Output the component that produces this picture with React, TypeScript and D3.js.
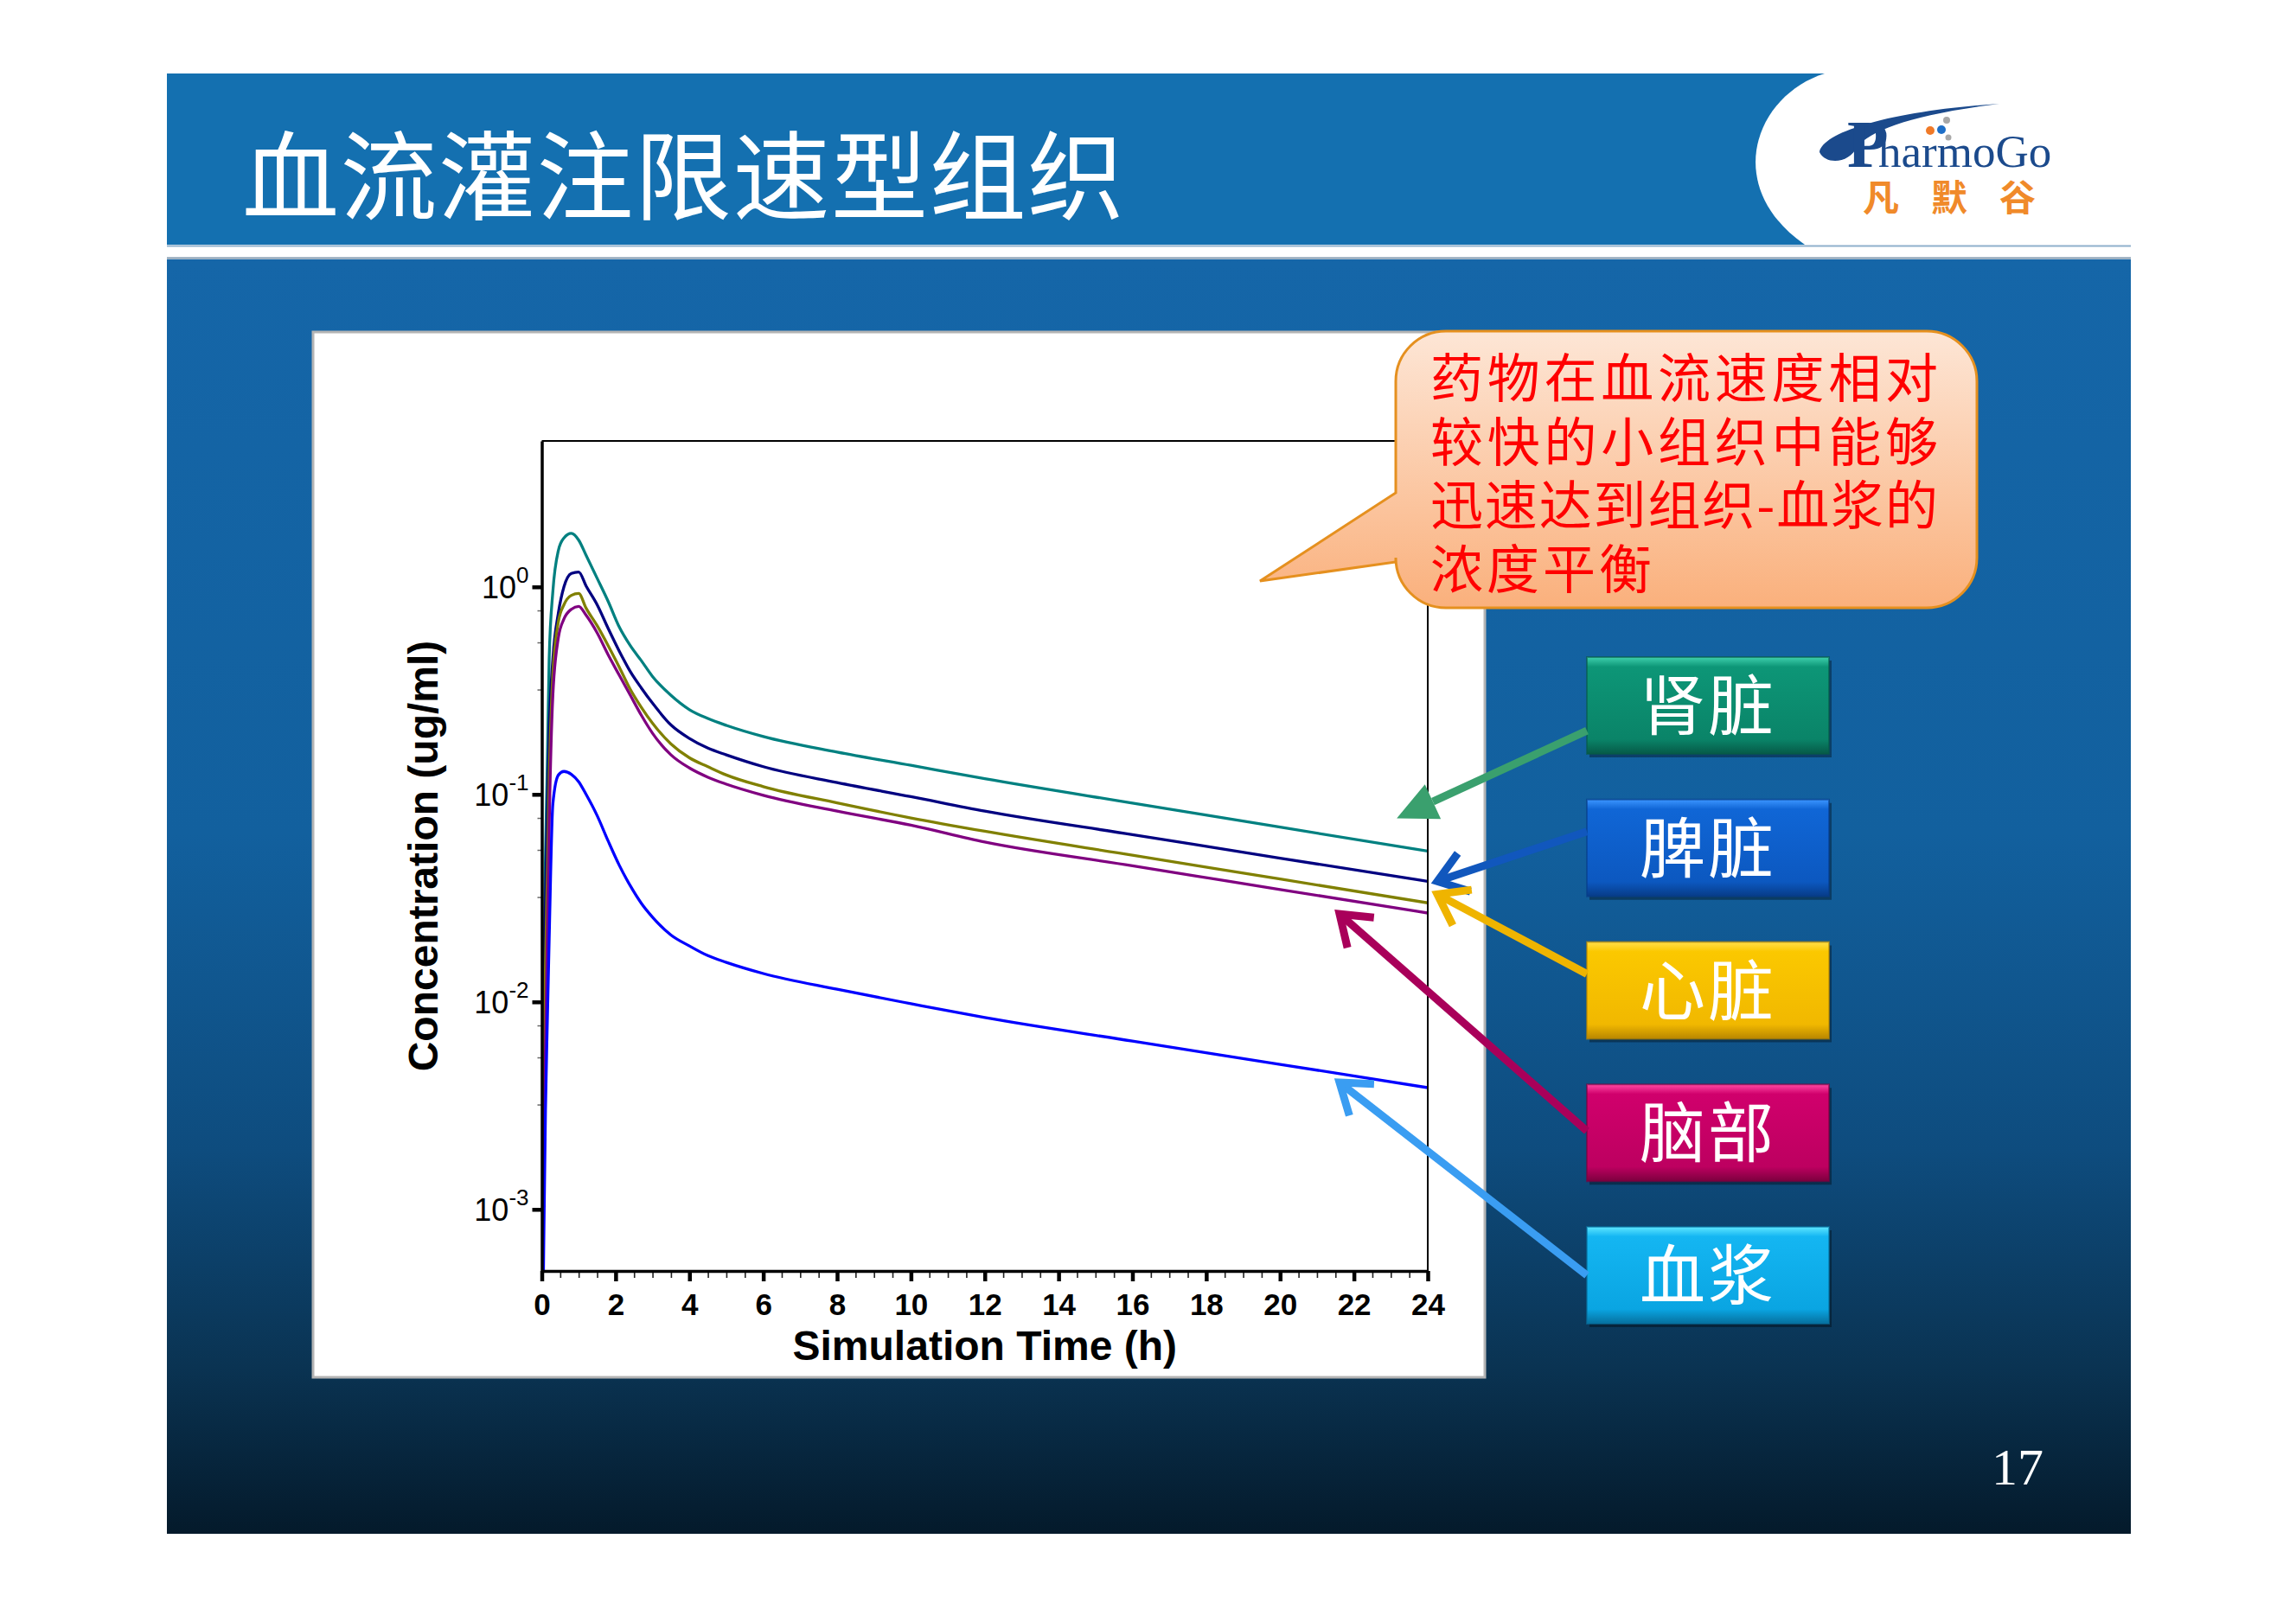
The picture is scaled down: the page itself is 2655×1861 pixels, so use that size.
import React, { useRef, useEffect } from "react";
import * as d3 from "d3";

// simulation time (h)
const times = [0, 0.05, 0.1, 0.15, 0.2, 0.3, 0.45, 0.6, 0.8, 1.0, 1.2, 1.5, 1.8, 2.1, 2.4, 2.7, 3.0, 3.5, 4, 4.5, 5, 6, 8, 10, 12, 16, 20, 24];

// concentration (ug/ml)
const kidney = [0.0001, 0.008, 0.05, 0.14, 0.45, 0.95, 1.5, 1.72, 1.81, 1.68, 1.42, 1.1, 0.85, 0.64, 0.52, 0.44, 0.37, 0.3, 0.256, 0.232, 0.215, 0.19, 0.16, 0.138, 0.119, 0.0908, 0.0695, 0.0533];
const spleen = [0.0001, 0.006, 0.03, 0.08, 0.2, 0.45, 0.75, 1.0, 1.16, 1.18, 1.01, 0.82, 0.63, 0.49, 0.39, 0.325, 0.275, 0.216, 0.186, 0.167, 0.155, 0.136, 0.114, 0.0975, 0.083, 0.064, 0.0493, 0.0381];
const heart = [0.0001, 0.003, 0.015, 0.04, 0.12, 0.38, 0.68, 0.82, 0.91, 0.93, 0.79, 0.65, 0.52, 0.41, 0.32, 0.262, 0.22, 0.175, 0.15, 0.136, 0.124, 0.109, 0.091, 0.077, 0.0664, 0.0509, 0.0391, 0.03];
const brain = [0.0001, 0.0015, 0.006, 0.02, 0.07, 0.3, 0.57, 0.7, 0.78, 0.805, 0.73, 0.6, 0.47, 0.375, 0.3, 0.24, 0.197, 0.155, 0.134, 0.121, 0.112, 0.099, 0.083, 0.071, 0.0589, 0.0453, 0.0348, 0.0268];
const plasma = [0.0001, 0.0006, 0.003, 0.008, 0.02, 0.09, 0.124, 0.129, 0.125, 0.115, 0.1, 0.079, 0.0595, 0.0455, 0.0362, 0.0298, 0.0256, 0.021, 0.0186, 0.0167, 0.0155, 0.0137, 0.0115, 0.0098, 0.0084, 0.00647, 0.005, 0.00386];

const seriesValues = [kidney, spleen, heart, brain, plasma];
const lineColors = ["#008080", "#000080", "#808000", "#800080", "#0000ff"];

// legend boxes on the right
const organs = ["肾脏", "脾脏", "心脏", "脑部", "血浆"];
const boxColors = [
  ["#3fd0ad", "#0d9677", "#0a8468", "#065a47"],
  ["#3b95ff", "#1066d6", "#0c58c0", "#073c88"],
  ["#ffe04a", "#fbc800", "#f1b800", "#b98700"],
  ["#ff4aa4", "#d0006c", "#bd0060", "#7c003e"],
  ["#5ee6ff", "#14b6f2", "#0aa5e2", "#06709e"],
];
const arrowColors = ["#3aa06e", "#1157bd", "#efb400", "#a9005a", "#3a9df2"];
// where each arrow points, in data units (time h, conc ug/ml)
const arrowTipT = [23.16, 24.26, 24.26, 21.61, 21.61];
const arrowTipC = [0.0767, 0.0381, 0.033, 0.0265, 0.00409];
const arrowStartFrac = [0.76, 0.33, 0.33, 0.48, 0.5];

const xMajor = d3.range(0, 25, 2);
const xMinor = d3.range(0, 24.01, 0.5).filter((v) => v % 2 !== 0);
const yMajor = [1e-3, 1e-2, 1e-1, 1];
const yExp = ["-3", "-2", "-1", "0"];
const yMinorMult = [3.2, 5.4, 7.7];

const calloutLines = ["药物在血流速度相对", "较快的小组织中能够", "迅速达到组织-血浆的", "浓度平衡"];

const CJK = "'Noto Sans CJK SC', sans-serif";
const SANS = "'Liberation Sans', Arial, sans-serif";
const SERIF = "'Liberation Serif', 'Times New Roman', serif";

const App = () => {
  const axRef = useRef<SVGGElement>(null);

  const x = d3.scaleLinear().domain([0, 24]).range([626.5, 1651]);
  const y = d3.scaleLog().domain([5.05e-4, 5.05]).range([1470, 510]);
  const boxY = d3.scalePoint<string>().domain(organs).range([760, 1419]);
  const boxX = 1835, boxW = 280, boxH = 112;

  const line = d3
    .line<number>()
    .x((_, i) => x(times[i]))
    .y((d) => y(d))
    .curve(d3.curveMonotoneX);

  useEffect(() => {
    const g = d3.select(axRef.current);
    g.selectAll("*").remove();

    // minor x ticks
    g.append("g")
      .attr("transform", "translate(0,1470)")
      .call(d3.axisBottom(x).tickValues(xMinor).tickSize(8).tickFormat(() => ""))
      .call((s) => s.select(".domain").remove())
      .call((s) => s.selectAll("line").attr("stroke", "#222").attr("stroke-width", 1.6));

    // major x
    g.append("g")
      .attr("transform", "translate(0,1470)")
      .call(d3.axisBottom(x).tickValues(xMajor).tickSize(12).tickSizeOuter(0).tickPadding(14).tickFormat(d3.format("d")))
      .call((s) => s.select(".domain").attr("stroke", "#000").attr("stroke-width", 3.5))
      .call((s) => s.selectAll(".tick line").attr("stroke", "#000").attr("stroke-width", 4.5))
      .call((s) =>
        s.selectAll(".tick text")
          .attr("fill", "#000")
          .attr("font-family", SANS)
          .attr("font-weight", "bold")
          .attr("font-size", 35)
      );

    // minor y ticks
    const yMinor: number[] = [];
    [1e-3, 1e-2, 1e-1].forEach((d) => yMinorMult.forEach((m) => yMinor.push(d * m)));
    g.append("g")
      .attr("transform", "translate(626.5,0)")
      .call(d3.axisLeft(y).tickValues(yMinor).tickSize(5).tickFormat(() => ""))
      .call((s) => s.select(".domain").remove())
      .call((s) => s.selectAll("line").attr("stroke", "#666").attr("stroke-width", 1.5));

    // major y
    const ya = g.append("g")
      .attr("transform", "translate(626.5,0)")
      .call(d3.axisLeft(y).tickValues(yMajor).tickSize(11).tickSizeOuter(0).tickFormat(() => ""))
      .call((s) => s.select(".domain").attr("stroke", "#000").attr("stroke-width", 3.5))
      .call((s) => s.selectAll(".tick line").attr("stroke", "#000").attr("stroke-width", 4.5));

    ya.selectAll(".tick text").remove();
    ya.selectAll<SVGGElement, number>(".tick").each(function (d) {
      const t = d3.select(this)
        .append("text")
        .attr("x", -15)
        .attr("y", 13)
        .attr("text-anchor", "end")
        .attr("fill", "#000")
        .attr("font-family", SANS)
        .attr("font-size", 36);
      t.append("tspan").text("10");
      t.append("tspan").attr("dy", -18).attr("font-size", 26).text(yExp[yMajor.indexOf(d)]);
    });

    // frame top and right
    g.append("path")
      .attr("d", `M${x(0)},${y(5.05)}H${x(24)}V${y(5.05e-4)}`)
      .attr("fill", "none")
      .attr("stroke", "#000")
      .attr("stroke-width", 2);
  }, []);

  const calloutPath = (() => {
    const x0 = 1614, x1 = 2286, y0 = 383, y1 = 703, r = 58;
    return `M${x0 + r},${y0} H${x1 - r} A${r},${r} 0 0 1 ${x1},${y0 + r} V${y1 - r} A${r},${r} 0 0 1 ${x1 - r},${y1} H${x0 + r} A${r},${r} 0 0 1 ${x0},${y1 - r} V650 L1457,672 L${x0},570 V${y0 + r} A${r},${r} 0 0 1 ${x0 + r},${y0} Z`;
  })();

  return (
    <svg width={2655} height={1861} style={{ position: "absolute", left: 0, top: 0, background: "#fff" }}>
      <defs>
        <linearGradient id="body" x1="0" y1="0" x2="0" y2="1">
          <stop offset="0" stopColor="#1566a8" />
          <stop offset="0.45" stopColor="#12609e" />
          <stop offset="0.7" stopColor="#0e4c7e" />
          <stop offset="0.87" stopColor="#0a3352" />
          <stop offset="1" stopColor="#041a2b" />
        </linearGradient>
        <linearGradient id="callout" x1="0" y1="0" x2="0" y2="1">
          <stop offset="0" stopColor="#fde6d6" />
          <stop offset="1" stopColor="#fab07c" />
        </linearGradient>
        {boxColors.map((c, i) => (
          <linearGradient key={i} id={`box${i}`} x1="0" y1="0" x2="0" y2="1">
            <stop offset="0" stopColor={c[0]} />
            <stop offset="0.1" stopColor={c[1]} />
            <stop offset="0.85" stopColor={c[2]} />
            <stop offset="1" stopColor={c[3]} />
          </linearGradient>
        ))}
        <clipPath id="plotClip">
          <rect x={x(0)} y={y(5.05)} width={x(24) - x(0)} height={y(5.05e-4) - y(5.05)} />
        </clipPath>
      </defs>

      {/* title bar */}
      <rect x={193} y={85} width={2271} height={198} fill="#1470b0" />
      <path d="M2110,85 C2030,110 1990,215 2087,283 L2470,283 L2470,85 Z" fill="#fff" />
      <text x={280} y={246} fill="#fff" fontFamily={CJK} fontSize={112} letterSpacing={1.5}>
        血流灌注限速型组织
      </text>

      {/* logo */}
      <path d="M2104,176 C2108,152 2190,128 2312,120 C2210,133 2165,150 2147,170 C2140,188 2112,192 2104,176 Z" fill="#1b4a8c" />
      <text x={2136} y={193} fill="#1b4a8c" fontFamily={SERIF} fontWeight="bold" fontSize={78}>P</text>
      <text x={2172} y={193} fill="#1b4a8c" fontFamily={SERIF} fontSize={53}>harmoGo</text>
      <circle cx={2232} cy={151} r={5} fill="#f07a28" />
      <circle cx={2245} cy={150} r={5} fill="#1e6fc8" />
      <circle cx={2251} cy={139} r={4} fill="#a8a8a8" />
      <circle cx={2253} cy={159} r={3.5} fill="#a8a8a8" />
      <text x={2154} y={244} fill="#f08a2a" fontFamily={CJK} fontWeight={700} fontSize={42} letterSpacing={37}>
        凡默谷
      </text>

      {/* separator */}
      <rect x={193} y={283} width={2271} height={17} fill="#fff" />
      <line x1={193} x2={2464} y1={284.5} y2={284.5} stroke="#8fb0cc" strokeWidth={2} />
      <line x1={193} x2={2464} y1={298.5} y2={298.5} stroke="#7f97ad" strokeWidth={2} />

      {/* body */}
      <rect x={193} y={300} width={2271} height={1474} fill="url(#body)" />

      {/* chart panel */}
      <rect x={362} y={384} width={1355} height={1209} fill="#fff" stroke="#b4b4b4" strokeWidth={3} />

      <g clipPath="url(#plotClip)">
        {seriesValues.map((vals, i) => (
          <path key={i} d={line(vals) || ""} fill="none" stroke={lineColors[i]} strokeWidth={3.3} strokeLinejoin="round" />
        ))}
      </g>
      <g ref={axRef} />

      <text
        transform={`translate(489,${(y(5.05) + y(5.05e-4)) / 2}) rotate(-90)`}
        textAnchor="middle"
        dy="0.35em"
        fontFamily={SANS}
        fontWeight="bold"
        fontSize={48}
        fill="#000"
      >
        Concentration (ug/ml)
      </text>
      <text x={(x(0) + x(24)) / 2} y={1573} textAnchor="middle" fontFamily={SANS} fontWeight="bold" fontSize={48} fill="#000">
        Simulation Time (h)
      </text>

      {/* callout */}
      <path d={calloutPath} fill="url(#callout)" stroke="#e5901f" strokeWidth={3} />
      {calloutLines.map((t, i) => (
        <text
          key={i}
          x={1654}
          y={460 + i * 73.5}
          fill="#ff0000"
          fontFamily={CJK}
          fontSize={61}
          letterSpacing={4}
          {...(i < 3 ? { textLength: 591, lengthAdjust: "spacing" } : {})}
        >
          {t}
        </text>
      ))}

      {/* legend boxes */}
      {organs.map((o, i) => {
        const by = boxY(o) as number;
        return (
          <g key={o}>
            <rect x={boxX + 3} y={by + 4} width={boxW} height={boxH} fill="rgba(0,0,0,0.35)" />
            <rect x={boxX} y={by} width={boxW} height={boxH} fill={`url(#box${i})`} />
            <rect x={boxX} y={by} width={boxW} height={boxH} fill="none" stroke={boxColors[i][3]} strokeOpacity={0.6} strokeWidth={2} />
            <text
              x={boxX + boxW / 2}
              y={by + boxH / 2 + 28}
              textAnchor="middle"
              fill="#fff"
              fontFamily={CJK}
              fontSize={76}
              letterSpacing={3}
            >
              {o}
            </text>
          </g>
        );
      })}

      {/* arrows */}
      {organs.map((o, i) => {
        const sx = boxX;
        const sy = (boxY(o) as number) + boxH * arrowStartFrac[i];
        const tx = x(arrowTipT[i]);
        const ty = y(arrowTipC[i]);
        const ang = Math.atan2(ty - sy, tx - sx);
        if (i === 0) {
          const len = 46, hw = 22;
          const bx = tx - len * Math.cos(ang), byy = ty - len * Math.sin(ang);
          const px = -Math.sin(ang), py = Math.cos(ang);
          return (
            <g key={o}>
              <line x1={sx} y1={sy} x2={bx} y2={byy} stroke={arrowColors[i]} strokeWidth={9} />
              <path d={`M${tx},${ty} L${bx + px * hw},${byy + py * hw} L${bx - px * hw},${byy - py * hw} Z`} fill={arrowColors[i]} />
            </g>
          );
        }
        const arm = 40, spread = 0.62;
        const a1x = tx - arm * Math.cos(ang - spread), a1y = ty - arm * Math.sin(ang - spread);
        const a2x = tx - arm * Math.cos(ang + spread), a2y = ty - arm * Math.sin(ang + spread);
        return (
          <g key={o} stroke={arrowColors[i]} strokeWidth={9} fill="none">
            <line x1={sx} y1={sy} x2={tx} y2={ty} />
            <path d={`M${a1x},${a1y} L${tx},${ty} L${a2x},${a2y}`} strokeLinejoin="miter" />
          </g>
        );
      })}

      {/* page number */}
      <text x={2303} y={1717} fill="#fff" fontFamily={SERIF} fontSize={60}>17</text>
    </svg>
  );
};

export default App;
